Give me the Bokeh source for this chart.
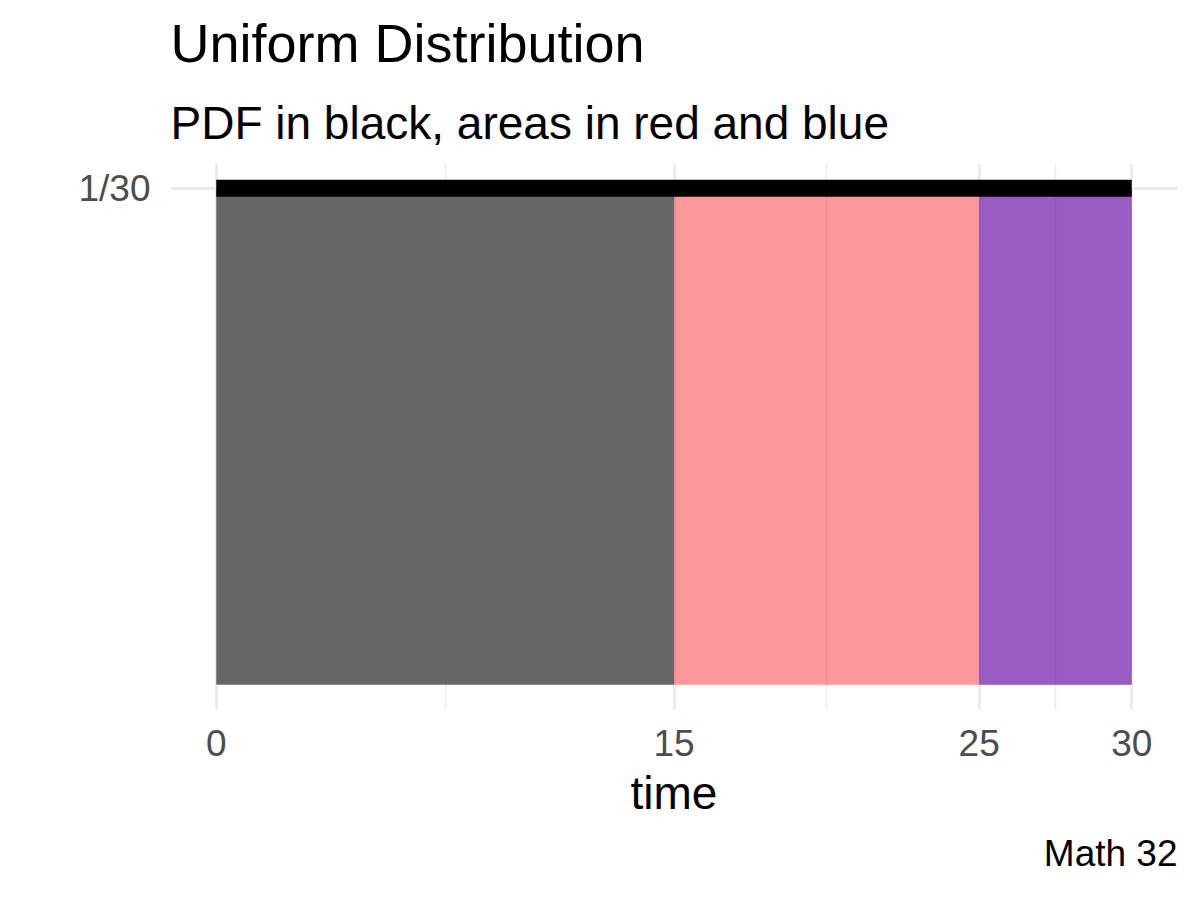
from bokeh.plotting import figure
from bokeh.models import Range1d, FixedTicker, Title
from bokeh.embed import file_html
from bokeh.resources import INLINE

# ---- data ----
x_min, x_max = 0, 30
pdf_value = 1 / 30
x_ticks = [0, 15, 25, 30]
x_minor_ticks = [7.5, 20, 27.5]
y_ticks = [1 / 30]
y_tick_labels = ["1/30"]

gray_x = [0, 15]
red_x = [15, 30]
blue_x = [25, 30]

title_text = "Uniform Distribution"
subtitle_text = "PDF in black, areas in red and blue"
xlabel_text = "time"
caption_text = "Math 32"

FONT = "Liberation Sans"
GRID = "#EBEBEB"

xspan = x_max - x_min
yspan = pdf_value - 0
p = figure(
    width=1184, height=884,
    x_range=Range1d(x_min - 0.05 * xspan, x_max + 0.05 * xspan),
    y_range=Range1d(0 - 0.05 * yspan, pdf_value + 0.05 * yspan),
    output_backend="svg", toolbar_location=None,
    min_border_left=170, min_border_right=7,
    min_border_top=163, min_border_bottom=175,
)
p.outline_line_color = None
p.background_fill_color = "white"
p.border_fill_color = "white"

# areas
p.varea(x=gray_x, y1=[0, 0], y2=[pdf_value, pdf_value], fill_color="#666666", fill_alpha=1.0)
p.varea(x=red_x, y1=[0, 0], y2=[pdf_value, pdf_value], fill_color="red", fill_alpha=0.4)
p.varea(x=blue_x, y1=[0, 0], y2=[pdf_value, pdf_value], fill_color="blue", fill_alpha=0.4)
# pdf line
p.line(x=[x_min, x_max], y=[pdf_value, pdf_value], line_color="black", line_width=17, line_cap="butt")

# axes
xt = FixedTicker(ticks=x_ticks, minor_ticks=x_minor_ticks)
p.xaxis.ticker = xt
p.xgrid.ticker = xt
yt = FixedTicker(ticks=y_ticks, minor_ticks=[])
p.yaxis.ticker = yt
p.ygrid.ticker = yt
p.yaxis.major_label_overrides = {v: s for v, s in zip(y_ticks, y_tick_labels)}

for ax in (p.xaxis[0], p.yaxis[0]):
    ax.axis_line_color = None
    ax.major_tick_line_color = None
    ax.minor_tick_line_color = None
    ax.major_tick_out = 0
    ax.major_tick_in = 0
    ax.major_label_text_font = FONT
    ax.major_label_text_font_size = "37px"
    ax.major_label_text_color = "#4D4D4D"

p.xaxis.major_label_standoff = 16
p.yaxis.major_label_standoff = 20
p.xaxis.axis_label = xlabel_text
p.xaxis.axis_label_text_font = FONT
p.xaxis.axis_label_text_font_size = "46px"
p.xaxis.axis_label_text_font_style = "normal"
p.xaxis.axis_label_text_color = "black"
p.xaxis.axis_label_standoff = 8

p.xgrid.grid_line_color = GRID
p.xgrid.grid_line_width = 2.8
p.xgrid.minor_grid_line_color = GRID
p.xgrid.minor_grid_line_width = 1.4
p.ygrid.grid_line_color = GRID
p.ygrid.grid_line_width = 2.8

# titles
p.title.visible = False
sub = Title(text=subtitle_text, text_font=FONT, text_font_size="46px",
            text_font_style="normal", text_color="black", align="left",
            standoff=30, text_line_height=1.25)
main = Title(text=title_text, text_font=FONT, text_font_size="54px",
             text_font_style="normal", text_color="black", align="left", standoff=14)
p.add_layout(sub, "above")
p.add_layout(main, "above")

cap = Title(text=caption_text, text_font=FONT, text_font_size="37px",
            text_font_style="normal", text_color="black", align="right", standoff=19)
p.add_layout(cap, "below")

open("out.html", "w").write(file_html(p, INLINE))
